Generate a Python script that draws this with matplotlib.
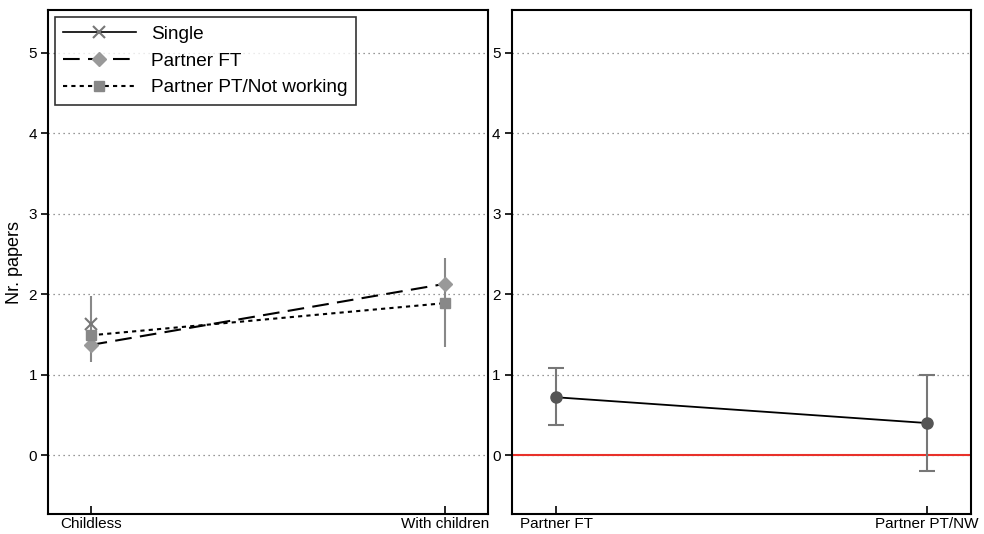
import matplotlib.pyplot as plt

plt.rcParams['font.family'] = ['Liberation Sans', 'DejaVu Sans']

# left panel
groups = ["Childless", "With children"]
single = [1.63]
single_ci = [(1.16, 1.98)]
partner_ft = [1.37, 2.13]
partner_pt = [1.49, 1.89]
pt_ci = [(1.34, 2.45)]

# right panel
partners = ["Partner FT", "Partner PT/NW"]
diff = [0.72, 0.40]
diff_lo = [0.37, -0.20]
diff_hi = [1.08, 1.00]

yticks = [0, 1, 2, 3, 4, 5]

fig = plt.figure(figsize=(9.84, 5.34), dpi=100)
ax1 = fig.add_axes([0.0488, 0.0375, 0.447, 0.9435])
ax2 = fig.add_axes([0.520, 0.0375, 0.467, 0.9435])

for ax in (ax1, ax2):
    ax.set_ylim(-0.73, 5.53)
    ax.set_xlim(-0.12, 1.12)
    ax.set_yticks(yticks)
    for y in yticks:
        ax.axhline(y, color='#777777', lw=0.9, ls=(0, (1, 3)), zorder=0)
    ax.tick_params(axis='y', labelsize=11, length=5, width=1.2, direction='out', pad=3)
    ax.tick_params(axis='x', labelsize=11, length=6, width=1.2, direction='in', pad=2)
    for s in ax.spines.values():
        s.set_linewidth(1.5)
    ax.set_xticks([0, 1])

# left panel
ax1.vlines(0, single_ci[0][0], single_ci[0][1], color='#888888', lw=1.5, zorder=1)
ax1.vlines(1, pt_ci[0][0], pt_ci[0][1], color='#888888', lw=1.5, zorder=1)
ax1.plot([0], single, color='black', lw=1.2, marker='x', ms=8, mew=1.5,
         mec='#777777', label='Single', zorder=3)
ax1.plot([0, 1], partner_ft, color='black', lw=1.5, ls=(0, (8, 4)), marker='D',
         ms=7, mfc='#999999', mec='#999999', label='Partner FT', zorder=3)
ax1.plot([0, 1], partner_pt, color='black', lw=1.5, ls=(0, (2, 2)), marker='s',
         ms=7, mfc='#888888', mec='#888888', label='Partner PT/Not working', zorder=3)
ax1.set_xticklabels(groups)
ax1.set_ylabel("Nr. papers", fontsize=13, labelpad=4)
leg = ax1.legend(loc='upper left', fontsize=13.7, handlelength=3.8, frameon=True,
                 fancybox=False, edgecolor='black', borderaxespad=0.35,
                 labelspacing=0.5, borderpad=0.45)
leg.get_frame().set_linewidth(1.2)
leg.get_lines()[0].set_linestyle('-')

# right panel
ax2.axhline(0, color='#e8312a', lw=1.5, zorder=1)
ax2.errorbar([0, 1], diff, yerr=[[d - l for d, l in zip(diff, diff_lo)],
                                  [h - d for d, h in zip(diff, diff_hi)]],
             fmt='none', ecolor='#777777', elinewidth=1.5, capsize=6, capthick=1.5, zorder=2)
ax2.plot([0, 1], diff, color='black', lw=1.3, marker='o', ms=8,
         mfc='#555555', mec='#555555', zorder=3)
ax2.set_xticklabels(partners)

fig.savefig("out.png", dpi=100)
